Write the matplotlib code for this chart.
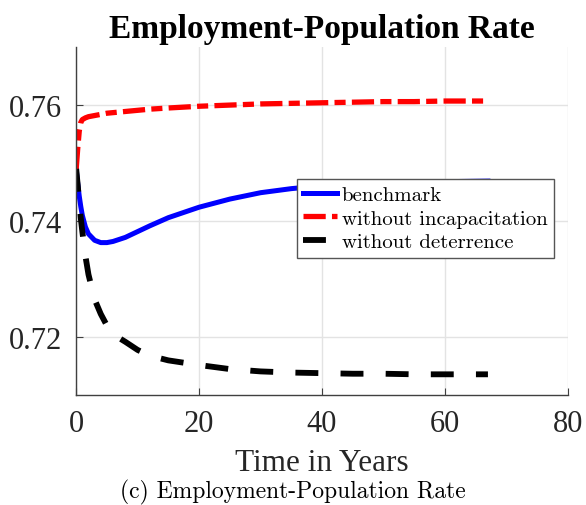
import matplotlib
matplotlib.use('Agg')
import matplotlib.pyplot as plt

plt.rcParams['lines.scale_dashes'] = False

# time in years
years = [0, 0.25, 0.5, 0.75, 1, 1.5, 2, 3, 4, 5, 6, 8, 10, 12, 15, 20,
         25, 30, 35, 40, 45, 50, 55, 60, 67]

benchmark = [0.7490, 0.7465, 0.7443, 0.7425, 0.7410, 0.7390, 0.7378, 0.7367,
             0.7363, 0.7363, 0.7365, 0.7372, 0.7382, 0.7392, 0.7406, 0.7424,
             0.7438, 0.7449, 0.7456, 0.7461, 0.7464, 0.7466, 0.7467, 0.7468,
             0.7469]

no_incap = [0.7490, 0.7525, 0.7555, 0.7570, 0.7575, 0.7578, 0.7580, 0.7582,
            0.7584, 0.7586, 0.7587, 0.7589, 0.7591, 0.7593, 0.7595, 0.7598,
            0.7600, 0.7602, 0.7603, 0.7604, 0.7605, 0.7606, 0.7606, 0.7607,
            0.7607]

no_deter = [0.7490, 0.7462, 0.7432, 0.7405, 0.7382, 0.7340, 0.7308, 0.7265,
            0.7240, 0.7220, 0.7205, 0.7192, 0.7178, 0.7168, 0.7160, 0.7152,
            0.7145, 0.7141, 0.7139, 0.7138, 0.7137, 0.7137, 0.7136, 0.7136,
            0.7136]

labels = ['benchmark', 'without incapacitation', 'without deterrence']
xticks = [0, 20, 40, 60, 80]
yticks = [0.72, 0.74, 0.76]

fig = plt.figure(figsize=(5.86, 5.06), dpi=100)
ax = fig.add_axes([0.130, 0.217, 0.839, 0.688])

ax.plot(years, benchmark, color='#0000ff', lw=3.6, label=labels[0])
l2, = ax.plot(years, no_incap, color='#ff0000', lw=3.8, label=labels[1])
l2.set_dashes((16, 4.5, 8, 4.5))
l2.set_dash_capstyle('butt')
l3, = ax.plot(years, no_deter, color='black', lw=4.2, label=labels[2])
l3.set_dashes((16.5, 16))
l3.set_dash_capstyle('butt')

ax.set_xlim(0, 80)
ax.set_ylim(0.71, 0.77)
ax.set_xticks(xticks)
ax.set_yticks(yticks)
ax.set_xticklabels([str(v) for v in xticks])
ax.set_yticklabels(['%.2f' % v for v in yticks])
ax.grid(True, color='#e3e3e3', lw=1)
ax.set_axisbelow(True)
for s in ['top', 'right']:
    ax.spines[s].set_visible(False)
for s in ['left', 'bottom']:
    ax.spines[s].set_color('#404040')
    ax.spines[s].set_linewidth(1.0)
ax.tick_params(direction='in', length=5, color='#404040', labelcolor='#262626',
               labelsize=22, pad=10)
for t in ax.get_xticklabels() + ax.get_yticklabels():
    t.set_family('Liberation Serif')

ax.set_title('Employment-Population Rate', family='Liberation Serif',
             fontweight='bold', fontsize=24, pad=7)
ax.set_xlabel('Time in Years', family='Liberation Serif', fontsize=22.5,
              color='#262626', labelpad=7)

leg = ax.legend(loc='upper left', bbox_to_anchor=(297 / 586, 1 - 180 / 506),
                bbox_transform=fig.transFigure, borderaxespad=0,
                prop={'family': 'cmr10', 'size': 15}, fancybox=False,
                framealpha=1, edgecolor='#555555', handlelength=1.6,
                handletextpad=0.25, labelspacing=0.25, borderpad=0.3)
leg.get_frame().set_linewidth(1.0)

fig.text(0.5, 0.014, '(c) Employment-Population Rate', ha='center',
         family='cmr10', fontsize=17)

fig.savefig('out.png', dpi=100)
